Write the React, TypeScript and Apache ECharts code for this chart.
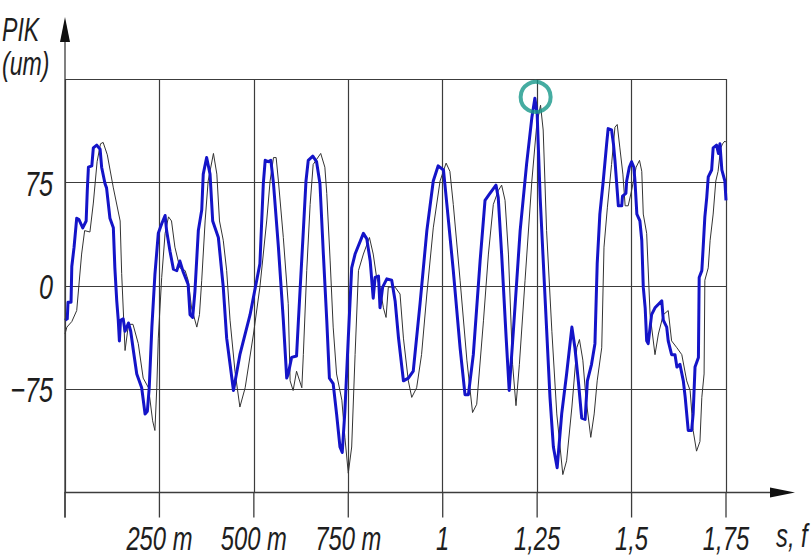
import React, { useEffect, useRef } from "react";
import * as echarts from "echarts";

// Measured profile (blue, thick) and reference profile (thin), [s, µm]
const measuredProfile: [number, number][] = [
  [0.000, -25], [0.006, -24], [0.008, -12], [0.016, -12], [0.018, 14], [0.024, 28], [0.031, 49], [0.037, 48],
  [0.047, 42], [0.056, 47], [0.059, 69], [0.062, 86], [0.071, 87], [0.075, 100], [0.084, 102], [0.093, 99],
  [0.097, 86], [0.106, 74], [0.110, 71], [0.119, 49], [0.128, 42], [0.132, 13], [0.137, -11], [0.141, -25],
  [0.144, -40], [0.147, -25], [0.154, -24], [0.159, -33], [0.168, -27], [0.174, -33], [0.181, -47], [0.190, -64],
  [0.203, -74], [0.212, -93], [0.218, -91], [0.223, -74], [0.230, -30], [0.238, 8], [0.247, 38], [0.256, 45],
  [0.265, 51], [0.269, 40], [0.278, 25], [0.287, 12], [0.296, 11], [0.304, 18], [0.313, 10], [0.326, 1],
  [0.331, -21], [0.338, -23], [0.344, -4], [0.353, 40], [0.362, 55], [0.366, 81], [0.375, 93], [0.384, 81],
  [0.391, 47], [0.406, 35], [0.419, -1], [0.428, -38], [0.446, -76], [0.463, -50], [0.490, -21], [0.516, 16],
  [0.525, 74], [0.530, 91], [0.538, 90], [0.545, 91], [0.552, 74], [0.565, 28], [0.578, -25], [0.587, -67],
  [0.591, -64], [0.600, -52], [0.613, -51], [0.618, -25], [0.631, 40], [0.638, 76], [0.644, 91], [0.656, 94],
  [0.666, 90], [0.675, 74], [0.684, 23], [0.693, -25], [0.700, -67], [0.710, -71], [0.719, -93], [0.728, -117],
  [0.734, -121], [0.741, -91], [0.750, -38], [0.759, 13], [0.768, 23], [0.790, 38], [0.799, 34], [0.808, 18],
  [0.816, -9], [0.821, 6], [0.830, 7], [0.834, -16], [0.841, -1], [0.852, 5], [0.865, 4], [0.874, -11],
  [0.883, -38], [0.896, -69], [0.909, -67], [0.922, -62], [0.940, -13], [0.958, 40], [0.975, 76], [0.988, 87],
  [1.002, 84], [1.011, 59], [1.028, 11], [1.046, -45], [1.059, -79], [1.068, -79], [1.081, -50], [1.099, 18],
  [1.112, 62], [1.125, 67], [1.141, 73], [1.147, 64], [1.156, 23], [1.168, -38], [1.176, -76], [1.187, -33],
  [1.205, 40], [1.222, 88], [1.236, 122], [1.244, 136], [1.250, 125], [1.258, 64], [1.271, -9], [1.284, -81],
  [1.293, -117], [1.303, -132], [1.315, -93], [1.328, -64], [1.342, -30], [1.350, -45], [1.359, -69], [1.368, -96],
  [1.377, -97], [1.383, -69], [1.394, -57], [1.403, -42], [1.409, 16], [1.416, 52], [1.425, 76], [1.434, 103],
  [1.438, 114], [1.447, 113], [1.452, 103], [1.456, 91], [1.465, 58], [1.474, 58], [1.476, 65], [1.485, 67],
  [1.487, 76], [1.494, 86], [1.500, 90], [1.506, 86], [1.509, 76], [1.514, 52], [1.522, 47], [1.527, 33],
  [1.531, -1], [1.536, -16], [1.540, -40], [1.544, -42], [1.553, -21], [1.562, -16], [1.580, -11], [1.584, -25],
  [1.593, -30], [1.597, -40], [1.606, -50], [1.615, -50], [1.620, -59], [1.628, -57], [1.637, -69], [1.642, -81],
  [1.650, -105], [1.659, -105], [1.663, -93], [1.668, -59], [1.677, -52], [1.679, 6], [1.686, 11], [1.690, 30],
  [1.694, 50], [1.699, 64], [1.703, 79], [1.712, 84], [1.716, 100], [1.725, 102], [1.730, 96], [1.734, 103],
  [1.739, 84], [1.747, 76], [1.750, 62],
];

const referenceProfile: [number, number][] = [
  [0.000, -35], [0.005, -30], [0.018, -26], [0.031, -18], [0.044, 23], [0.052, 40], [0.066, 39], [0.075, 60],
  [0.085, 90], [0.094, 103], [0.101, 104], [0.112, 95], [0.128, 71], [0.146, 47], [0.150, 9], [0.159, -47],
  [0.168, -28], [0.180, -28], [0.194, -42], [0.207, -67], [0.221, -74], [0.232, -98], [0.238, -105], [0.243, -74],
  [0.247, -38], [0.256, 6], [0.265, 38], [0.274, 50], [0.282, 47], [0.291, 28], [0.304, 13], [0.318, 11],
  [0.326, 4], [0.335, -16], [0.349, -30], [0.356, -21], [0.362, 4], [0.371, 47], [0.379, 76], [0.393, 96],
  [0.402, 81], [0.409, 47], [0.419, 33], [0.428, 11], [0.437, -25], [0.450, -62], [0.463, -88], [0.477, -74],
  [0.499, -35], [0.516, -1], [0.534, 47], [0.543, 76], [0.552, 93], [0.559, 93], [0.565, 76], [0.578, 35],
  [0.591, -13], [0.596, -69], [0.604, -76], [0.613, -62], [0.627, -74], [0.631, -50], [0.640, 11], [0.649, 59],
  [0.657, 88], [0.677, 96], [0.688, 86], [0.693, 67], [0.702, 18], [0.710, -30], [0.719, -64], [0.733, -83],
  [0.741, -110], [0.750, -136], [0.759, -117], [0.768, -50], [0.777, 11], [0.790, 23], [0.806, 35], [0.816, 23],
  [0.825, 6], [0.834, -1], [0.843, -16], [0.850, -23], [0.856, -1], [0.874, -1], [0.887, -6], [0.896, -38],
  [0.909, -69], [0.918, -81], [0.931, -74], [0.944, -50], [0.958, -6], [0.975, 42], [0.993, 76], [1.009, 89],
  [1.019, 83], [1.028, 59], [1.046, 4], [1.064, -54], [1.079, -92], [1.090, -86], [1.108, -25], [1.121, 23],
  [1.134, 59], [1.147, 69], [1.156, 73], [1.165, 62], [1.174, 23], [1.185, -57], [1.194, -87], [1.203, -57],
  [1.218, 4], [1.236, 76], [1.249, 117], [1.259, 131], [1.266, 113], [1.275, 40], [1.289, -33], [1.302, -93],
  [1.318, -137], [1.328, -127], [1.342, -88], [1.355, -45], [1.362, -39], [1.371, -54], [1.379, -81], [1.392, -110],
  [1.401, -93], [1.409, -69], [1.421, -45], [1.427, 28], [1.436, 57], [1.447, 88], [1.456, 115], [1.462, 117],
  [1.469, 100], [1.477, 81], [1.483, 58], [1.491, 58], [1.500, 69], [1.512, 86], [1.521, 91], [1.527, 83],
  [1.531, 52], [1.540, 38], [1.549, -21], [1.562, -50], [1.571, -35], [1.584, -21], [1.597, -18], [1.606, -40],
  [1.620, -45], [1.633, -50], [1.646, -69], [1.655, -76], [1.663, -105], [1.672, -120], [1.681, -113], [1.686, -81],
  [1.692, -64], [1.694, 4], [1.703, 13], [1.708, 33], [1.716, 52], [1.723, 76], [1.729, 83], [1.736, 100],
  [1.741, 103], [1.747, 105], [1.750, 104],
];

// Highlighted maximum of the measured profile
const peakMarker: [number, number][] = [[1.246, 137]];

// Axis ticks and their captions
const xTicks = [0.25, 0.5, 0.75, 1, 1.25, 1.5, 1.75];
const xTickLabels = ["250 m", "500 m", "750 m", "1", "1,25", "1,5", "1,75"];
const yTicks = [-75, 0, 75];
const yTickLabels = ["\u221275", "0", "75"];

// Narrow drafting-style lettering: regular face squeezed horizontally
const FONT = '"Liberation Sans", "DejaVu Sans", sans-serif';
const SQUEEZE = 0.7;
const GRID_COLOR = "#3c3c3c";
const TEXT_COLOR = "#1e1e1e";
const TICK_LENGTH = 25;

export default function App() {
  const ref = useRef<HTMLDivElement>(null);

  useEffect(() => {
    if (!ref.current) return;
    const chart = echarts.init(ref.current, undefined, { renderer: "svg" });

    const gridLeft = 65;
    const gridTop = 79;
    const gridRight = 726;
    const gridBottom = 492.5;

    chart.setOption({
      animation: false,
      backgroundColor: "#ffffff",
      grid: {
        left: gridLeft,
        top: gridTop,
        right: 811 - gridRight,
        bottom: 556 - gridBottom,
        containLabel: false,
        outerBoundsMode: "none",
      },
      xAxis: {
        type: "value",
        position: "bottom",
        min: 0,
        max: 1.75,
        interval: 0.25,
        axisLine: { show: true, onZero: false, lineStyle: { color: GRID_COLOR, width: 1.3 } },
        axisTick: { show: false },
        splitLine: { show: true, lineStyle: { color: GRID_COLOR, width: 1.2 } },
        axisLabel: { show: false },
      },
      yAxis: {
        type: "value",
        min: -150,
        max: 150,
        interval: 75,
        axisLine: { show: false, onZero: false },
        axisTick: { show: false },
        splitLine: { show: true, lineStyle: { color: GRID_COLOR, width: 1.2 } },
        axisLabel: { show: false },
      },
      series: [
        {
          // downward tick marks under the horizontal axis, one per grid column
          name: "ticks",
          type: "custom",
          data: [0, ...xTicks].map((t) => [t, -150]),
          clip: false,
          silent: true,
          z: 1,
          renderItem: (_params: any, api: any) => {
            const p = api.coord([api.value(0), api.value(1)]);
            return {
              type: "line",
              shape: { x1: p[0], y1: p[1], x2: p[0], y2: p[1] + TICK_LENGTH },
              style: { stroke: GRID_COLOR, lineWidth: 1.3 },
            };
          },
        },
        {
          name: "reference",
          type: "line",
          data: referenceProfile,
          showSymbol: false,
          silent: true,
          lineStyle: { color: "#333333", width: 1 },
          z: 2,
        },
        {
          name: "measured",
          type: "line",
          data: measuredProfile,
          showSymbol: false,
          silent: true,
          lineStyle: { color: "#1414c8", width: 3, join: "round" },
          z: 3,
        },
        {
          name: "peak",
          type: "scatter",
          data: peakMarker,
          symbol: "circle",
          symbolSize: 30,
          silent: true,
          itemStyle: { color: "rgba(0,0,0,0)", borderColor: "#17978a", borderWidth: 4 },
          z: 4,
        },
      ],
    });

    // Captions placed through the axes' own scales
    const xPix = (v: number) => Number(chart.convertToPixel({ xAxisIndex: 0 }, v));
    const yPix = (v: number) => Number(chart.convertToPixel({ yAxisIndex: 0 }, v));
    const axisY = yPix(-150);
    const axisX = xPix(0);
    const axisEnd = xPix(1.75);

    const label = (text: string, x: number, y: number, size: number, align: string, vAlign: string) => ({
      type: "text",
      x,
      y,
      scaleX: SQUEEZE,
      silent: true,
      style: {
        text,
        font: `italic ${size}px ${FONT}`,
        fill: TEXT_COLOR,
        align,
        verticalAlign: vAlign,
      },
      z: 6,
    });

    const xLabels = xTicks.map((t, i) => label(xTickLabels[i], xPix(t), axisY + 28.5, 34, "center", "top"));
    const yLabels = yTicks.map((v, i) => label(yTickLabels[i], axisX - 12, yPix(v) + 1, 36, "right", "middle"));

    chart.setOption({
      graphic: [
        // vertical axis with arrow
        {
          type: "rect",
          silent: true,
          shape: { x: axisX - 0.65, y: 40, width: 1.3, height: axisY + TICK_LENGTH - 40 },
          style: { fill: GRID_COLOR },
          z: 5,
        },
        {
          type: "polygon",
          silent: true,
          shape: { points: [[axisX, 17], [axisX - 5, 42], [axisX + 5, 42]] },
          style: { fill: "#111" },
          z: 5,
        },
        // horizontal axis continued past the grid, with arrow
        {
          type: "rect",
          silent: true,
          shape: { x: axisEnd, y: axisY - 0.65, width: 772 - axisEnd, height: 1.3 },
          style: { fill: GRID_COLOR },
          z: 5,
        },
        {
          type: "polygon",
          silent: true,
          shape: { points: [[795, axisY], [770, axisY - 5], [770, axisY + 5]] },
          style: { fill: "#111" },
          z: 5,
        },
        ...xLabels,
        ...yLabels,
        // axis names
        label("PIK", 2, 13, 33, "left", "top"),
        label("(um)", 2, 47, 33, "left", "top"),
        label("s, f", 776, 518, 34, "left", "top"),
      ],
    });

    return () => chart.dispose();
  }, []);

  return (
    <div
      ref={ref}
      style={{ position: "fixed", left: 0, top: 0, width: 811, height: 556, background: "#fff" }}
    />
  );
}
